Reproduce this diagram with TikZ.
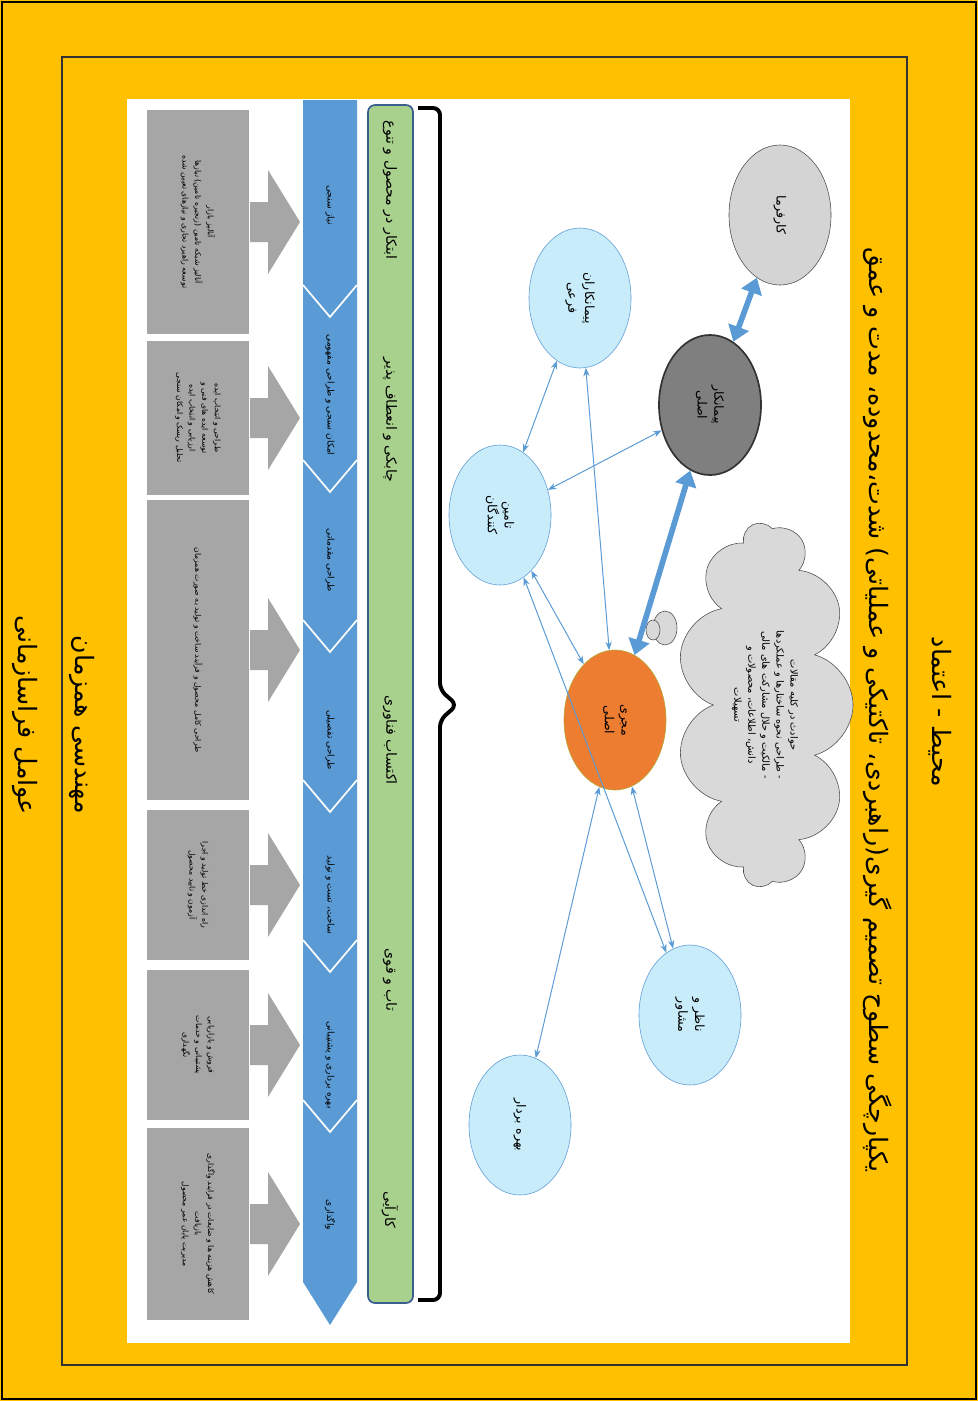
\documentclass[tikz,border=0pt]{standalone}
\usepackage{fontspec}
\newfontfamily\fa[Script=Arabic]{DejaVu Sans}
\TeXXeTstate=1
\usetikzlibrary{shapes.geometric,shapes.symbols,arrows.meta}
\definecolor{clyellow}{HTML}{FFC000}
\definecolor{clblue}{HTML}{5B9BD5}
\definecolor{clgreen}{HTML}{A9D18E}
\definecolor{clgreenline}{HTML}{3A5F8F}
\definecolor{clbox}{HTML}{A6A6A6}
\definecolor{cllight}{HTML}{C9ECFB}
\definecolor{cldark}{HTML}{7F7F7F}
\definecolor{clpale}{HTML}{D4D4D4}
\definecolor{clorange}{HTML}{ED7D31}
\definecolor{clcloud}{HTML}{D9D9D9}
\newcommand{\rl}[1]{\beginR #1\endR}

\begin{document}
\begin{tikzpicture}[x=0.025cm, y=-0.025cm]
  \tikzstyle{party} = [ellipse, draw=clblue, fill=cllight, rotate=-90, minimum width=3.5cm, minimum height=2.55cm, align=center, inner sep=0pt, font=\fa\fontsize{9}{12}\selectfont]
  \tikzstyle{graybox} = [fill=clbox, rotate=-90, minimum height=2.55cm, align=center, inner sep=2pt, font=\fa\fontsize{5.5}{9}\selectfont]
  \tikzstyle{steplabel} = [rotate=-90, font=\fa\fontsize{6.5}{8}\selectfont]
  \tikzstyle{goallabel} = [rotate=-90, font=\fa\fontsize{10}{12}\selectfont]
  \tikzstyle{headline} = [rotate=-90, font=\fa\fontsize{18}{22}\selectfont]
  \tikzstyle{link} = [clblue, line width=0.7pt, {Stealth[length=6pt]}-{Stealth[length=6pt]}]
  \tikzstyle{biglink} = [clblue, line width=4pt, {Triangle[length=11pt,width=15pt]}-{Triangle[length=11pt,width=15pt]}]

  \fill[clyellow] (0,0) rectangle (978,1401);
  \draw[line width=0.8pt] (2,2) rectangle (976,1399);
  \draw[black!80, line width=0.8pt] (62,57) rectangle (907,1365);
  \fill[white] (127,99) rectangle (850,1343);

  \node[headline] (env) at (940,712) {\rl{محیط - اعتماد}};
  \node[headline] (title) at (878,710) {\rl{یکپارچگی سطوح تصمیم گیری(راهبردی، تاکتیکی و عملیاتی) شدت،محدوده، مدت و عمق}};
  \node[headline] (concur) at (82,725) {\rl{مهندسی همزمان}};
  \node[headline] (extra) at (25,715) {\rl{عوامل فراسازمانی}};

  \node[graybox, minimum width=5.6cm] (g1) at (198,222) {\rl{آنالیز بازار}\\\rl{آنالیز شبکه تامین (زنجیره تامین) نیازها}\\\rl{توسعه راهبرد تجاری و نیازهای تعیین شده}};
  \node[graybox, minimum width=3.85cm] (g2) at (198,418) {\rl{طراحی و انتخاب ایده}\\\rl{توسعه ایده های فنی و}\\\rl{ارزیابی و انتخاب ایده}\\\rl{تحلیل ریسک و امکان سنجی}};
  \node[graybox, minimum width=7.5cm] (g3) at (198,650) {\rl{طراحی کامل محصول و فرآیند ساخت و تولید به صورت همزمان}};
  \node[graybox, minimum width=3.75cm] (g4) at (198,885) {\rl{راه اندازی خط تولید و اجرا}\\\rl{آزمون و تایید محصول}};
  \node[graybox, minimum width=3.75cm] (g5) at (198,1045) {\rl{فروش و بازاریابی}\\\rl{پشتیبانی و خدمات}\\\rl{نگهداری}};
  \node[graybox, minimum width=4.8cm] (g6) at (198,1224) {\rl{کاهش هزینه ها و ضایعات در فرایند واگذاری}\\\rl{بازیافت}\\\rl{مدیریت پایان عمر محصول}};
  \foreach \yc in {222,418,650,885,1045,1224}
    \fill[clbox] (250,\yc-20) -- (268,\yc-20) -- (268,\yc-52) -- (300,\yc) -- (268,\yc+52) -- (268,\yc+20) -- (250,\yc+20) -- cycle;

  \fill[clblue] (303,100) -- (357,100) -- (357,1282) -- (330,1325) -- (303,1282) -- cycle;
  \foreach \yv in {285,460,620,780,940,1100}
    \draw[white, line width=1.2pt] (303,\yv) -- (330,\yv+32) -- (357,\yv);
  \node[steplabel] (s1) at (330,205) {\rl{نیاز سنجی}};
  \node[steplabel] (s2) at (330,395) {\rl{امکان سنجی و طراحی مفهومی}};
  \node[steplabel] (s3) at (330,560) {\rl{طراحی مقدماتی}};
  \node[steplabel] (s4) at (330,740) {\rl{طراحی تفصیلی}};
  \node[steplabel] (s5) at (330,895) {\rl{ساخت، تست و تولید}};
  \node[steplabel] (s6) at (330,1065) {\rl{بهره برداری و پشتیبانی}};
  \node[steplabel] (s7) at (330,1215) {\rl{واگذاری}};

  \draw[draw=clgreenline, fill=clgreen, line width=1.2pt, rounded corners=5pt] (368,105) rectangle (413,1303);
  \node[goallabel] (a1) at (390,190) {\rl{ابتکار در محصول و تنوع}};
  \node[goallabel] (a2) at (390,420) {\rl{چابکی و انعطاف پذیر}};
  \node[goallabel] (a3) at (390,740) {\rl{اکتساب فناوری}};
  \node[goallabel] (a4) at (390,980) {\rl{تاب و قوی}};
  \node[goallabel] (a5) at (390,1210) {\rl{کارآیی}};
  \draw[line width=2.8pt, rounded corners=5pt] (418,108) -- (440,108) -- (440,690) -- (457,705) -- (440,720) -- (440,1300) -- (418,1300);

  \node[cloud, draw=black!70, fill=clcloud, cloud puffs=11, aspect=2, rotate=-90, minimum width=9.1cm, minimum height=4.4cm, align=center, font=\fa\fontsize{7}{10}\selectfont] (ideas) at (765,705) {\rl{حوادث در کلیه مقالات}\\\rl{- طراحی نحوه ساختارها و عملکردها}\\\rl{- مالکیت و حلال مشارکت های مالی}\\\rl{دانش، اطلاعات، محصولات و}\\\rl{تسهیلات}};
  \draw[draw=black!70, fill=clcloud] (665,628) ellipse [x radius=12, y radius=17];
  \draw[draw=black!70, fill=clcloud] (653,630) ellipse [x radius=7, y radius=10];

  \node[party, fill=clpale, draw=black!70] (karfarma) at (780,215) {\rl{کارفرما}};
  \node[party, fill=cldark, draw=black!80, line width=1.2pt] (peyman) at (710,405) {\rl{پیمانکار}\\\rl{اصلی}};
  \node[party] (farei) at (580,298) {\rl{پیمانکاران}\\\rl{فرعی}};
  \node[party] (tamin) at (500,515) {\rl{تامین}\\\rl{کنندگان}};
  \node[party, fill=clorange, draw=olive!70] (mojri) at (615,720) {\rl{مجری}\\\rl{اصلی}};
  \node[party] (nazer) at (690,1015) {\rl{ناظر و}\\\rl{مشاور}};
  \node[party] (bahre) at (520,1125) {\rl{بهره بردار}};

  \draw[biglink] (karfarma) -- (peyman);
  \draw[biglink] (peyman) -- (mojri);
  \draw[link] (farei) -- (tamin);
  \draw[link] (peyman) -- (tamin);
  \draw[link] (mojri) -- (farei);
  \draw[link] (mojri) -- (tamin);
  \draw[link] (nazer) -- (tamin);
  \draw[link] (mojri) -- (nazer);
  \draw[link] (mojri) -- (bahre);
\end{tikzpicture}
\end{document}
